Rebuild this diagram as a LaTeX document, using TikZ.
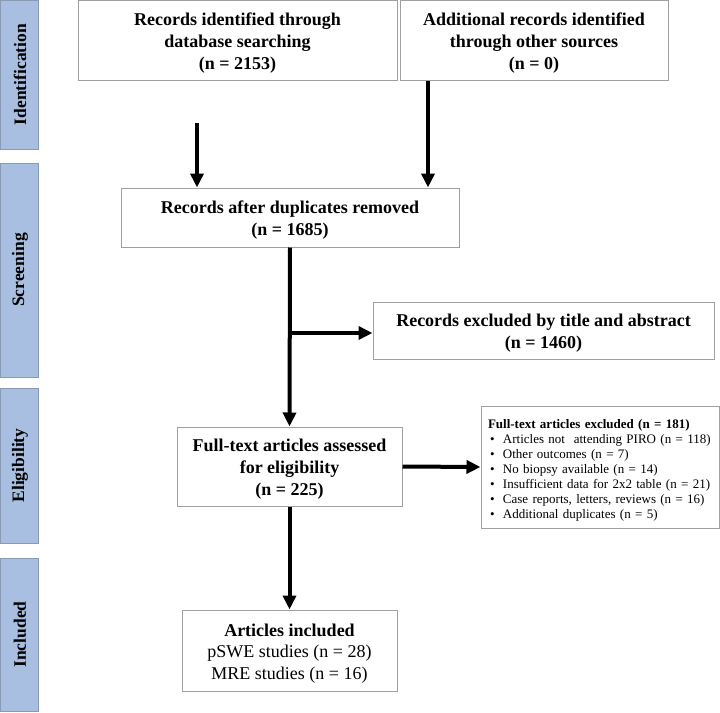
\documentclass[tikz,border=0pt]{standalone}
\usepackage{fontspec}
\setmainfont{Liberation Serif}
\usetikzlibrary{arrows.meta}
\definecolor{barblue}{HTML}{A8BFE1}
\definecolor{barline}{HTML}{8A9AB5}
\definecolor{boxline}{HTML}{A0A0A0}
\newcommand{\lowerbig}{\rule{0pt}{18.5pt}}
\newcommand{\lowersmall}{\rule{0pt}{15pt}}
\tikzset{
  bar/.style={draw=barline, line width=0.8pt, fill=barblue, minimum width=38pt, inner sep=0pt},
  bartext/.style={rotate=90, font=\fontsize{17.5}{19}\selectfont\bfseries},
  box/.style={draw=boxline, line width=1pt, fill=white, align=center, inner sep=0pt,
    font=\fontsize{18}{22}\selectfont\bfseries},
  arr/.style={line width=4pt, -{Triangle[length=14pt,width=13pt]}}
}
\begin{document}
\begin{tikzpicture}[x=1pt,y=-1pt]
\useasboundingbox (0,0) rectangle (720,712);
% side bars
\node[bar, minimum height=149pt] (bI) at (19,74.5) {};
\node[bartext] (tI) at ([xshift=1pt]bI) {Identification};
\node[bar, minimum height=214pt] (bS) at (19,270) {};
\node[bartext] (tS) at ([xshift=1pt]bS) {Screening};
\node[bar, minimum height=155pt] (bE) at (19,465.5) {};
\node[bartext] (tE) at ([xshift=1pt]bE) {Eligibility};
\node[bar, minimum height=153pt] (bN) at (19,634.5) {};
\node[bartext] (tN) at ([xshift=1pt]bN) {Included};
% boxes
\node[box, minimum width=319pt, minimum height=80pt] (b1) at (237.5,40)
  {\lowerbig Records identified through\\database searching\\(n = 2153)};
\node[box, minimum width=268pt, minimum height=80pt] (b2) at (534,40)
  {\lowerbig Additional records identified\\through other sources\\(n = 0)};
\node[box, minimum width=338pt, minimum height=59pt] (b3) at (290,217.5)
  {\lowerbig Records after duplicates removed\\(n = 1685)};
\node[box, minimum width=341pt, minimum height=57pt] (b4) at (543.5,330.5)
  {\lowerbig Records excluded by title and abstract\\(n = 1460)};
\node[box, minimum width=225pt, minimum height=79pt] (b5) at (289.5,466.5)
  {\lowerbig Full-text articles assessed\\for eligibility\\(n = 225)};
\node[box, minimum width=238pt, minimum height=122pt, align=left, text width=224pt,
  inner xsep=7pt, font=\fontsize{13}{15}\selectfont] (b6) at (600,467)
  {\lowersmall\textbf{Full-text articles excluded (n = 181)}\\
   \hspace*{2pt}\makebox[13pt][l]{•}Articles not\ \ attending PIRO (n = 118)\\
   \hspace*{2pt}\makebox[13pt][l]{•}Other outcomes (n = 7)\\
   \hspace*{2pt}\makebox[13pt][l]{•}No biopsy available (n = 14)\\
   \hspace*{2pt}\makebox[13pt][l]{•}Insufficient data for 2x2 table (n = 21)\\
   \hspace*{2pt}\makebox[13pt][l]{•}Case reports, letters, reviews (n = 16)\\
   \hspace*{2pt}\makebox[13pt][l]{•}Additional duplicates (n = 5)};
\node[box, minimum width=215pt, minimum height=81pt, font=\fontsize{18}{21.5}\selectfont] (b7) at (289.5,650.5)
  {\lowerbig\textbf{Articles included}\\pSWE studies (n = 28)\\MRE studies (n = 16)};
% connectors
\coordinate (s1) at (197,123);
\draw[arr] (s1) -- (s1 |- b3.north);
\coordinate (c2) at (428,0);
\draw[arr] (c2 |- b2.south) -- (c2 |- b3.north);
\draw[arr] (b3.south) -- (b5.north);
\coordinate (j) at (289.5,333);
\draw[arr] (j) -- (j -| b4.west);
\draw[arr] (b5.east) -- (b6.west);
\draw[arr] (b5.south) -- (b7.north);
\end{tikzpicture}
\end{document}
